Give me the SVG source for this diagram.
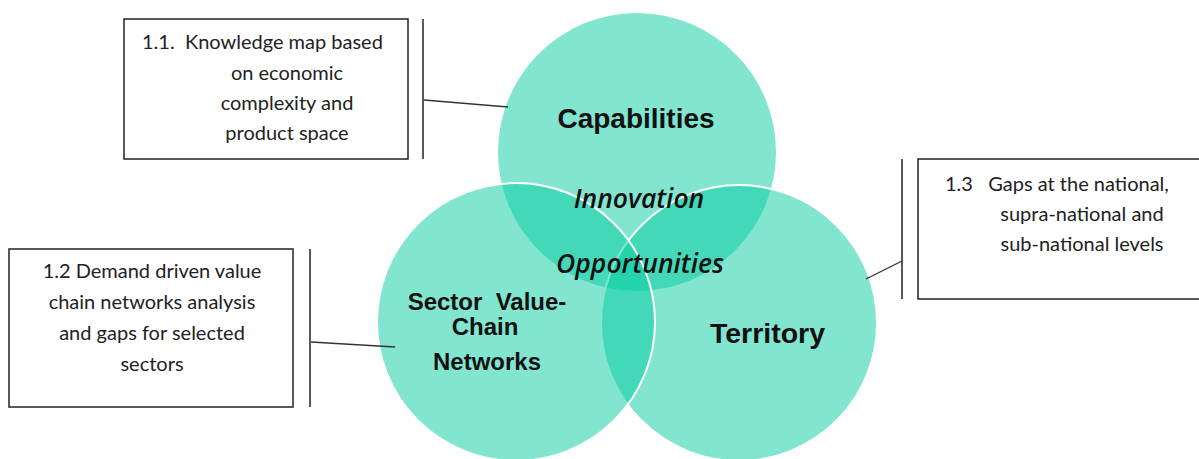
<svg xmlns="http://www.w3.org/2000/svg" width="1199" height="459" viewBox="0 0 1199 459">
<style>
.circ{fill:rgb(7,204,161);fill-opacity:0.51}
.ring{stroke:#fff;stroke-width:2}
.box{fill:#fff;stroke:#222;stroke-width:1.5}
.bar{stroke:#222;stroke-width:1.5}
.con{stroke:#333;stroke-width:1.3;fill:none}
text{white-space:pre}
.note{font-family:Lato,"Open Sans",sans-serif;font-size:20px;fill:#222}
.lab{font-family:"Liberation Sans",Arial,sans-serif;font-weight:bold;fill:#111}
.ital{font-family:"Open Sans",Lato,sans-serif;font-style:italic;font-weight:600;font-size:26.5px;fill:#111;text-anchor:middle}
</style>
<rect width="1199" height="459" fill="#fff"/>
<g id="venn">
<g id="capabilities">
<circle class="circ" cx="637" cy="152" r="139"/>
<text class="lab" x="636" y="128" font-size="28" text-anchor="middle">Capabilities</text>
</g>
<g id="territory">
<circle class="circ ring" cx="739" cy="323" r="138"/>
<text class="lab" x="767.5" y="343" font-size="28.5" text-anchor="middle">Territory</text>
</g>
<g id="sector">
<circle class="circ ring" cx="516" cy="322" r="139"/>
<text class="lab" font-size="24" text-anchor="middle" xml:space="preserve"><tspan x="487" y="310">Sector  Value-</tspan><tspan x="485" y="335">Chain</tspan><tspan x="487" y="370">Networks</tspan></text>
</g>
<g id="center">
<text class="ital" x="639" y="208">Innovation</text>
<text class="ital" x="640" y="273">Opportunities</text>
</g>
</g>
<g id="connectors">
<line class="bar" x1="423" y1="19" x2="423" y2="159"/>
<line class="con" x1="424" y1="100" x2="508" y2="107"/>
<line class="bar" x1="310" y1="249" x2="310" y2="407"/>
<line class="con" x1="311" y1="342" x2="395" y2="347"/>
<line class="bar" x1="902" y1="159" x2="902" y2="299"/>
<line class="con" x1="866" y1="279" x2="902" y2="261"/>
</g>
<g id="note11">
<rect class="box" x="124" y="19" width="284" height="140"/>
<text class="note" xml:space="preserve"><tspan x="142" y="49">1.1.  Knowledge map based</tspan><tspan x="287" y="80" text-anchor="middle">on economic</tspan><tspan x="287" y="110" text-anchor="middle">complexity and</tspan><tspan x="287" y="140" text-anchor="middle">product space</tspan></text>
</g>
<g id="note12">
<rect class="box" x="9" y="249" width="284" height="158"/>
<text class="note" text-anchor="middle"><tspan x="152" y="278">1.2 Demand driven value</tspan><tspan x="152" y="309">chain networks analysis</tspan><tspan x="152" y="340">and gaps for selected</tspan><tspan x="152" y="371">sectors</tspan></text>
</g>
<g id="note13">
<rect class="box" x="918" y="159" width="290" height="140"/>
<text class="note" xml:space="preserve"><tspan x="945" y="191">1.3   Gaps at the national,</tspan><tspan x="1082" y="221" text-anchor="middle">supra-national and</tspan><tspan x="1082" y="251" text-anchor="middle">sub-national levels</tspan></text>
</g>
</svg>
